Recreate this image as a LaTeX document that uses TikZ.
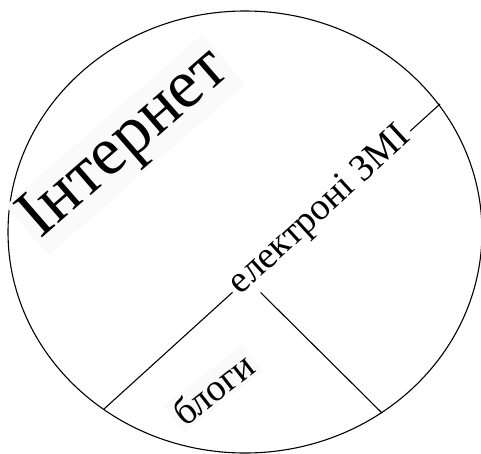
\documentclass[tikz,border=0pt]{standalone}
\usepackage{fontspec}
\setmainfont{Liberation Serif}
\usetikzlibrary{shapes.geometric}
\begin{document}
\begin{tikzpicture}[x=1pt,y=1pt,line width=1.1pt,
  lbl/.style={anchor=base west,inner xsep=4pt,inner ysep=3pt,fill=black!2,text=black,line width=0pt}]
\useasboundingbox (0,0) rectangle (481,-453);
\node (circ) [ellipse,draw,minimum width=474pt,minimum height=442pt,inner sep=0pt] at (245,-232) {};
\coordinate (p1) at (440,-104);
\coordinate (p2) at (104,-409);
\coordinate (p3) at (247,-279);
\coordinate (p4) at (382,-413);
\draw (p1) -- (p2);
\draw (p3) -- (p4);
\node (net) [lbl,rotate=41] at (37,-242) {\fontsize{69}{81}\selectfont Інтернет};
\node (zmi) [lbl,fill=white,rotate=42.5] at (238,-298) {\fontsize{38}{45}\selectfont електроні ЗМІ};
\node (blog) [lbl,rotate=38] at (182,-430) {\fontsize{38}{45}\selectfont блоги};
\end{tikzpicture}
\end{document}
